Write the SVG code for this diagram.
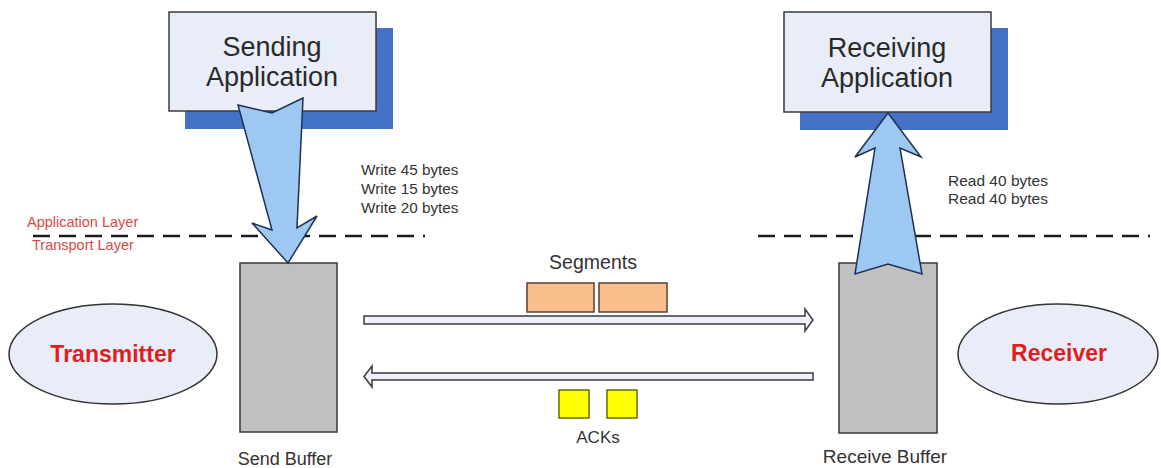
<svg xmlns="http://www.w3.org/2000/svg" width="1161" height="468" viewBox="0 0 1161 468">
  <style>
    .app { fill: #e8edf8; stroke: #3a3a3a; stroke-width: 1.5; }
    .shadow { fill: #4472c4; }
    .big-arrow { fill: #9cc8f2; stroke: #1f3050; stroke-width: 1.5; stroke-linejoin: miter; }
    .buffer { fill: #c0c0c0; stroke: #3a3a3a; stroke-width: 1.5; }
    .host { fill: #e8edf8; stroke: #333; stroke-width: 1.5; }
    .pipe { fill: #eef1f7; stroke: #3a3a3a; stroke-width: 1.5; }
    .segment { fill: #fbbf8e; stroke: #5a4030; stroke-width: 1.5; }
    .ack { fill: #ffff00; stroke: #6a6a00; stroke-width: 1.5; }
    .layer-line { stroke: #1a1a1a; stroke-width: 2.5; stroke-dasharray: 17 9; fill: none; }
    .label { font-family: "Liberation Sans", Arial, sans-serif; fill: #333; }
    .title { font-family: "Liberation Sans", Arial, sans-serif; fill: #2a2a2a; font-size: 27px; text-anchor: middle; }
    .host-label { font-family: "Liberation Sans", Arial, sans-serif; fill: #e01e1e; font-size: 23px; font-weight: bold; text-anchor: middle; }
    .layer-label { font-family: "Liberation Sans", Arial, sans-serif; fill: #d84848; font-size: 14.5px; }
  </style>

  <rect width="1161" height="468" fill="#ffffff"/>

  <!-- layer boundary -->
  <g id="layer-boundary">
    <line class="layer-line" x1="33" y1="236" x2="425" y2="236"/>
    <line class="layer-line" x1="758" y1="236" x2="1150" y2="236"/>
    <text class="layer-label" x="27" y="227">Application Layer</text>
    <text class="layer-label" x="32" y="250">Transport Layer</text>
  </g>

  <!-- application boxes -->
  <g id="sending-application">
    <rect class="shadow" x="185" y="28" width="208" height="101"/>
    <rect class="app" x="169" y="12" width="207" height="99"/>
    <text class="title" x="272" y="56">Sending</text>
    <text class="title" x="272" y="86">Application</text>
  </g>

  <g id="receiving-application">
    <rect class="shadow" x="800" y="28" width="208" height="102"/>
    <rect class="app" x="784" y="12" width="207" height="100"/>
    <text class="title" x="887" y="57">Receiving</text>
    <text class="title" x="887" y="87">Application</text>
  </g>

  <!-- buffers -->
  <g id="send-buffer">
    <rect class="buffer" x="240" y="263" width="97" height="169"/>
    <text class="label" x="285" y="465" font-size="18" text-anchor="middle">Send Buffer</text>
  </g>

  <g id="receive-buffer">
    <rect class="buffer" x="839" y="263" width="98" height="170"/>
    <text class="label" x="885" y="463" font-size="19" text-anchor="middle">Receive Buffer</text>
  </g>

  <!-- hosts -->
  <g id="transmitter">
    <ellipse class="host" cx="113" cy="354" rx="104" ry="50"/>
    <text class="host-label" x="113" y="362">Transmitter</text>
  </g>

  <g id="receiver">
    <ellipse class="host" cx="1058" cy="354" rx="100" ry="50"/>
    <text class="host-label" x="1059" y="361">Receiver</text>
  </g>

  <!-- data in flight -->
  <g id="segments">
    <text class="label" x="593" y="269" font-size="19.5" text-anchor="middle">Segments</text>
    <rect class="segment" x="527" y="283" width="67" height="29"/>
    <rect class="segment" x="599" y="283" width="68" height="29"/>
  </g>

  <g id="acks">
    <rect class="ack" x="559" y="390" width="30" height="28"/>
    <rect class="ack" x="607" y="390" width="30" height="28"/>
    <text class="label" x="598" y="443" font-size="17" text-anchor="middle">ACKs</text>
  </g>

  <!-- call annotations -->
  <g id="write-calls" class="label" font-size="15.3">
    <text x="361" y="175">Write 45 bytes</text>
    <text x="361" y="194">Write 15 bytes</text>
    <text x="361" y="213">Write 20 bytes</text>
  </g>

  <g id="read-calls" class="label" font-size="15.5">
    <text x="948" y="186">Read 40 bytes</text>
    <text x="948" y="204">Read 40 bytes</text>
  </g>

  <!-- connectors -->
  <g id="connectors">
    <!-- write: application into send buffer -->
    <path class="big-arrow" d="M238,105 L272,113 L303,98 L297,228 L317,216 L288,263 L252,223 L272,230 Z"/>
    <!-- read: receive buffer up to application -->
    <path class="big-arrow" d="M888,113 L921,157 L900,148 L922,274 L888,264 L855,274 L875,148 L855,157 Z"/>
    <!-- segments toward receiver -->
    <path class="pipe" d="M364,316 H805 V309 L813,320 L805,331 V324 H364 Z"/>
    <!-- acknowledgements toward transmitter -->
    <path class="pipe" d="M813,373 H372 V366 L364,376.5 L372,387 V380 H813 Z"/>
  </g>
</svg>
